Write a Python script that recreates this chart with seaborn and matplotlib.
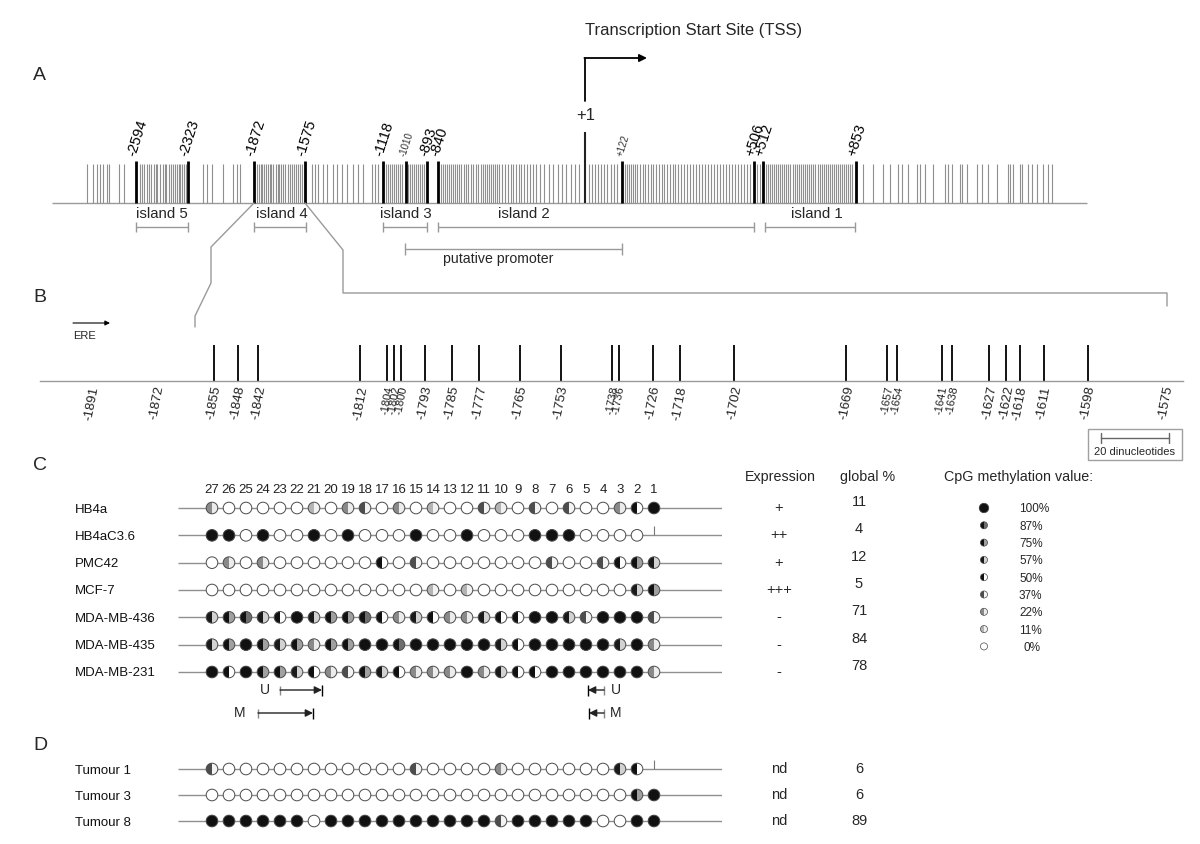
import numpy as np
import pandas as pd
import matplotlib
matplotlib.use("Agg")
import matplotlib.pyplot as plt
import matplotlib.transforms as mtransforms
from matplotlib.path import Path
from matplotlib.patches import Rectangle
import seaborn as sns

# ======================= DATA =======================
# Panel A : CpG map (schematic map units along the drawn sequence)
cpg_map_positions = [
    87, 93, 97, 100, 103, 107, 109, 119, 124,
    140, 142, 144, 147, 149, 151, 154, 156, 157, 160, 163, 165, 166, 169, 171, 173, 175, 177, 179, 180, 182, 184, 186,
    203, 207, 212, 223, 233, 237, 240,
    257, 259, 261, 262, 264, 266, 268, 270, 271, 273, 276, 278, 279, 281, 283, 285, 288, 290, 292, 294, 296, 298, 300, 302,
    312, 315, 318, 323, 327, 333, 337, 342, 347, 353, 358, 363, 372, 375, 378,
    386, 388, 390, 392, 394, 396, 398, 400, 402, 408, 410, 412, 414, 416, 418, 420, 422, 424,
    441, 443, 445, 447, 449, 451, 453, 455, 457, 459, 461, 464, 466, 468, 471, 473, 476, 478,
    481, 483, 485, 487, 489, 491, 493, 495, 497, 499, 502, 505, 508, 511, 513, 516, 519, 521, 524, 527, 530, 533, 536,
    540, 544, 549, 553, 558, 562, 566, 571, 575, 579,
    589, 592, 595, 598, 601, 604, 607, 611, 614, 617,
    625, 627, 629, 631, 633, 635, 637, 640, 643, 645, 648, 651, 653, 656, 659, 662, 664, 667, 670, 673, 675, 678,
    681, 684, 687, 690, 693, 696, 699, 702, 705, 708, 711, 714, 717, 720, 723, 726, 729, 732, 735, 738, 741, 744, 747, 750,
    757, 760,
    766, 768, 770, 772, 774, 776, 778, 780, 782, 784, 786, 788, 790, 793, 795, 797, 799, 801, 803, 805, 807, 809, 811,
    813, 815, 818, 820, 822, 824, 826, 828, 830, 832, 834, 836, 838, 840, 842, 844, 846, 848, 850, 852,
    863, 873, 883, 890, 898, 902, 908, 917, 920, 925, 933, 945, 948, 952, 960, 962, 967, 977, 982, 988, 997,
    1008, 1010, 1013, 1020, 1022, 1028, 1032, 1037, 1043, 1048, 1052,
]
site_labels_A = ["-2594", "-2323", "-1872", "-1575", "-1118", "-1010", "-893", "-840", "+122", "+506", "+512", "+853"]
site_map_A = [136, 188, 254, 305, 383, 406, 427, 438, 622, 754, 763, 856]
site_small_A = [False, False, False, False, False, True, False, False, True, False, False, False]
tss_map = 585

island_names = ["island 5", "island 4", "island 3", "island 2", "island 1"]
island_start = [136, 254, 383, 438, 765]
island_end = [188, 306, 427, 754, 855]
island_label_x = [162, 282, 406, 524, 817]
promoter_start, promoter_end = 405, 622

# Panel B : CpG sites of island 4 (bp relative to TSS)
cpg_sites_B = [-1855, -1848, -1842, -1812, -1804, -1802, -1800, -1793, -1785, -1777, -1765, -1753,
               -1738, -1736, -1726, -1718, -1702, -1669, -1657, -1654, -1641, -1638, -1627, -1622,
               -1618, -1611, -1598]
tick_values_B = [-1891, -1872] + cpg_sites_B + [-1575]
small_labels_B = [-1804, -1802, -1800, -1738, -1736, -1657, -1654, -1641, -1638]
scale_bar_bp = [-1594, -1574]   # 20 dinucleotides

# Panel C / D : methylation (% per CpG, CpG 27 ... 1; None = not analysed)
cpg_numbers = list(range(27, 0, -1))
cell_lines = ["HB4a", "HB4aC3.6", "PMC42", "MCF-7", "MDA-MB-436", "MDA-MB-435", "MDA-MB-231"]
meth_HB4a = [22, 0, 0, 0, 0, 0, 11, 0, 22, 37, 0, 22, 0, 11, 0, 0, 37, 11, 0, 37, 0, 37, 0, 0, 22, 50, 100]
meth_HB4aC36 = [100, 100, 0, 100, 0, 0, 100, 0, 100, 0, 0, 0, 100, 0, 0, 100, 0, 0, 0, 100, 100, 100, 0, 0, 0, 0, None]
meth_PMC42 = [0, 22, 0, 22, 0, 0, 0, 0, 0, 0, 50, 0, 37, 0, 0, 0, 0, 0, 0, 0, 37, 0, 0, 37, 50, 75, 57]
meth_MCF7 = [0, 0, 0, 0, 0, 0, 0, 0, 0, 0, 0, 0, 0, 11, 0, 11, 0, 0, 0, 0, 0, 0, 0, 0, 0, 57, 75]
meth_MB436 = [57, 75, 87, 57, 50, 100, 57, 75, 75, 87, 50, 22, 57, 50, 22, 22, 57, 50, 50, 100, 100, 57, 37, 100, 100, 100, 37]
meth_MB435 = [57, 75, 100, 75, 57, 75, 22, 75, 75, 100, 100, 87, 100, 100, 100, 100, 100, 57, 50, 100, 100, 100, 100, 100, 57, 100, 22]
meth_MB231 = [100, 50, 100, 75, 75, 57, 50, 22, 37, 75, 57, 50, 22, 22, 22, 100, 22, 57, 50, 50, 100, 100, 100, 100, 100, 100, 22]
expression = ["+", "++", "+", "+++", "-", "-", "-"]
global_pct = [11, 4, 12, 5, 71, 84, 78]

tumours = ["Tumour 1", "Tumour 3", "Tumour 8"]
meth_T1 = [37, 0, 0, 0, 0, 0, 0, 0, 0, 0, 0, 0, 37, 0, 0, 0, 0, 22, 0, 0, 0, 0, 0, 0, 57, 50, None]
meth_T3 = [0, 0, 0, 0, 0, 0, 0, 0, 0, 0, 0, 0, 0, 0, 0, 0, 0, 0, 0, 0, 0, 0, 0, 0, 0, 75, 100]
meth_T8 = [100, 100, 100, 100, 100, 100, 0, 100, 100, 100, 100, 100, 100, 100, 100, 100, 100, 37, 100, 100, 100, 100, 100, 0, 0, 100, 100]
expression_T = ["nd", "nd", "nd"]
global_T = [6, 6, 89]

legend_levels = [100, 87, 75, 57, 50, 37, 22, 11, 0]

# ======================= STYLE =======================
sns.set_theme(style="white")
plt.rcParams["font.family"] = ["Liberation Sans", "DejaVu Sans"]

LEFT = {100: "#111111", 87: "#111111", 75: "#111111", 57: "#1a1a1a", 50: "#111111",
        37: "#4d4d4d", 22: "#8a8a8a", 11: "#b4b4b4", 0: "#ffffff"}
RIGHT = {100: "#111111", 87: "#6e6e6e", 75: "#a0a0a0", 57: "#d2d2d2", 50: "#ffffff",
         37: "#f4f4f4", 22: "#ececec", 11: "#f2f2f2", 0: "#ffffff"}
HALF_LEFT = Path.wedge(90, 270)
LINE_GRAY = "#8f8f8f"
W, H = 1200, 844


def rect(x0, y0, x1, y1):
    return [x0 / W, 1 - y1 / H, (x1 - x0) / W, (y1 - y0) / H]


def draw_circles(ax, df, x, y, s, edge_lw=0.7):
    sns.scatterplot(data=df, x=x, y=y, hue="level", palette=RIGHT, marker="o", s=s,
                    linewidth=0, edgecolor="none", legend=False, ax=ax, zorder=3)
    dark = df[df["level"] > 0]
    sns.scatterplot(data=dark, x=x, y=y, hue="level", palette=LEFT, marker=HALF_LEFT, s=s,
                    linewidth=0, edgecolor="none", legend=False, ax=ax, zorder=4)
    ax.scatter(df[x], df[y], s=s, facecolors="none", edgecolors="#4a4a4a", linewidths=edge_lw, zorder=5)
    ax.set_xlabel("")
    ax.set_ylabel("")


def long_table(rows):
    rec = []
    for r, vals in enumerate(rows):
        for n, v in zip(cpg_numbers, vals):
            if v is not None:
                rec.append((n, r, int(v)))
    return pd.DataFrame(rec, columns=["cpg", "row", "level"])


fig = plt.figure(figsize=(12, 8.44), dpi=100)
bg = fig.add_axes([0, 0, 1, 1])
bg.set_xlim(0, W)
bg.set_ylim(H, 0)
bg.axis("off")

# panel letters
for letter, yy in zip(["A", "B", "C", "D"], [75, 297, 466, 745]):
    bg.text(33, yy, letter, fontsize=14, ha="left", va="center")

# ======================= PANEL A =======================
bg.hlines(203, 52, 1087, color="#9a9a9a", lw=1)
bg.vlines(cpg_map_positions, 164, 203, color=LINE_GRAY, lw=0.8)
bg.vlines(site_map_A, 161, 203, color="black", lw=2.0)
for lab, xm, small in zip(site_labels_A, site_map_A, site_small_A):
    bg.text(xm + 1, 158, lab, rotation=72, ha="center", va="bottom",
            fontsize=7 if small else 10.5, color="#333333" if small else "black")
bg.vlines(tss_map, 132, 203, color="#222222", lw=1.5)
bg.text(tss_map + 1, 116, "+1", fontsize=12, ha="center", va="center")
bg.plot([tss_map, tss_map], [101, 58], color="black", lw=1.3)
bg.annotate("", xy=(647, 58), xytext=(tss_map - 0.6, 58),
            arrowprops=dict(arrowstyle="-|>", lw=1.3, color="black", mutation_scale=11,
                            shrinkA=0, shrinkB=0))
bg.text(694, 30, "Transcription Start Site (TSS)", fontsize=12, ha="center", va="center")

for name, s0, s1, lx in zip(island_names, island_start, island_end, island_label_x):
    bg.hlines(227, s0, s1, color="#999999", lw=1)
    bg.vlines([s0, s1], 222, 232, color="#999999", lw=1)
    bg.text(lx, 214, name, fontsize=10.8, ha="center", va="center")
bg.hlines(249, promoter_start, promoter_end, color="#999999", lw=1)
bg.vlines([promoter_start, promoter_end], 243, 255, color="#999999", lw=1)
bg.text(498, 259, "putative promoter", fontsize=10.2, ha="center", va="center")

# zoom lines from island 4 to panel B
bg.plot([254, 211, 211, 195, 195], [203, 247, 283, 316, 327], color="#9a9a9a", lw=1)
bg.plot([305, 343, 343, 1167, 1167], [203, 250, 293, 293, 306], color="#9a9a9a", lw=1)

# ======================= PANEL B =======================
axB = fig.add_axes(rect(40, 345, 1183, 381))
axB.set_facecolor("none")
axB.vlines(cpg_sites_B, 0, 1, color="black", lw=1.3)
axB.set_xlim(-1906.18, -1570.0)
axB.set_ylim(0, 1)
for sp in ["top", "left", "right"]:
    axB.spines[sp].set_visible(False)
axB.spines["bottom"].set_color("#9a9a9a")
axB.spines["bottom"].set_linewidth(1)
axB.set_yticks([])
axB.set_xticks(tick_values_B)
axB.set_xticklabels([str(v) for v in tick_values_B], rotation=79)
axB.tick_params(axis="x", length=0, pad=3, labelsize=9.5, colors="#222222")
for t, v in zip(axB.get_xticklabels(), tick_values_B):
    if v in small_labels_B:
        t.set_fontsize(8)
    t.set_ha("center")
    t.set_va("top")

bg.annotate("", xy=(110, 323), xytext=(73, 323),
            arrowprops=dict(arrowstyle="-|>", lw=0.8, color="black", mutation_scale=7,
                            shrinkA=0, shrinkB=0))
bg.text(73, 336, "ERE", fontsize=8, ha="left", va="center")

# scale box (20 dinucleotides, drawn on the bp scale of panel B)
bg.add_patch(Rectangle((1088, 429), 94, 31, fill=False, edgecolor="#a0a0a0", lw=1))
tr_scale = mtransforms.blended_transform_factory(axB.transData, bg.transData)
bg.plot(scale_bar_bp, [438, 438], color="#666666", lw=1, transform=tr_scale)
bg.plot([scale_bar_bp[0]] * 2, [433, 443], color="#666666", lw=1, transform=tr_scale)
bg.plot([scale_bar_bp[1]] * 2, [433, 443], color="#666666", lw=1, transform=tr_scale)
bg.text(1135, 452, "20 dinucleotides", fontsize=8, ha="center", va="center")

# ======================= PANEL C =======================
axC = fig.add_axes(rect(178, 497, 722, 690))
axC.set_facecolor("none")
rows_C = [meth_HB4a, meth_HB4aC36, meth_PMC42, meth_MCF7, meth_MB436, meth_MB435, meth_MB231]
dfC = long_table(rows_C)
axC.hlines(range(len(cell_lines)), 29, -3, color=LINE_GRAY, lw=1, zorder=1)
draw_circles(axC, dfC, "cpg", "row", 70)
for r, vals in enumerate(rows_C):
    for n, v in zip(cpg_numbers, vals):
        if v is None:
            axC.vlines(n, r - 0.33, r, color="#777777", lw=0.8, zorder=2)
axC.set_xlim(29, -3)
axC.set_ylim(6.659, -0.4025)
axC.set_xticks(cpg_numbers)
axC.set_xticklabels([str(n) for n in cpg_numbers])
axC.xaxis.tick_top()
axC.tick_params(axis="x", top=True, labeltop=True, bottom=False, labelbottom=False,
                length=0, pad=1, labelsize=9.5, colors="#222222")
axC.set_yticks(range(len(cell_lines)))
axC.set_yticklabels(cell_lines)
axC.tick_params(axis="y", length=0, pad=74, labelsize=9.5, colors="#111111")
for t in axC.get_yticklabels():
    t.set_ha("left")
for sp in axC.spines.values():
    sp.set_visible(False)

trC = mtransforms.blended_transform_factory(bg.transData, axC.transData)
for r, (e, g) in enumerate(zip(expression, global_pct)):
    axC.text(779, r, e, transform=trC, fontsize=10.5, ha="center", va="center")
    axC.text(859, r - 0.22, str(g), transform=trC, fontsize=10.5, ha="center", va="center")

bg.text(780, 477, "Expression", fontsize=10.3, ha="center", va="center")
bg.text(868, 477, "global %", fontsize=10.3, ha="center", va="center")
bg.text(944, 477, "CpG methylation value:", fontsize=10.3, ha="left", va="center")

# legend
leg = pd.DataFrame({"level": legend_levels,
                    "x": [984] * len(legend_levels),
                    "y": [508 + 17.3 * k for k in range(len(legend_levels))]})
draw_circles(bg, leg.iloc[:1], "x", "y", 46, edge_lw=0.6)
draw_circles(bg, leg.iloc[1:], "x", "y", 26, edge_lw=0.5)
for lvl, yy in zip(leg["level"], leg["y"]):
    bg.text(1019 if lvl > 0 else 1023, yy + 1.5, f"{lvl}%", fontsize=8.5, ha="left", va="center")

# primers U / M
bg.text(265, 690, "U", fontsize=10, ha="center", va="center")
bg.vlines(280, 686, 695, color="#888888", lw=1)
bg.annotate("", xy=(322, 690), xytext=(280, 690),
            arrowprops=dict(arrowstyle="-|>", lw=1, color="#222222", mutation_scale=11, shrinkA=0, shrinkB=0))
bg.vlines(322, 685, 696, color="black", lw=1)
bg.text(240, 713, "M", fontsize=10, ha="center", va="center")
bg.vlines(258, 709, 718, color="#888888", lw=1)
bg.annotate("", xy=(313, 713), xytext=(258, 713),
            arrowprops=dict(arrowstyle="-|>", lw=1, color="#222222", mutation_scale=11, shrinkA=0, shrinkB=0))
bg.vlines(313, 708, 719, color="black", lw=1)
bg.annotate("", xy=(588, 690), xytext=(604, 690),
            arrowprops=dict(arrowstyle="-|>", lw=1, color="#222222", mutation_scale=11, shrinkA=0, shrinkB=0))
bg.vlines(588, 685, 696, color="black", lw=1)
bg.vlines(604, 686, 695, color="#888888", lw=1)
bg.text(616, 690, "U", fontsize=10, ha="center", va="center")
bg.annotate("", xy=(589, 713), xytext=(604, 713),
            arrowprops=dict(arrowstyle="-|>", lw=1, color="#222222", mutation_scale=11, shrinkA=0, shrinkB=0))
bg.vlines(589, 708, 719, color="black", lw=1)
bg.vlines(604, 709, 718, color="#888888", lw=1)
bg.text(616, 713, "M", fontsize=10, ha="center", va="center")

# ======================= PANEL D =======================
axD = fig.add_axes(rect(178, 755, 722, 835))
axD.set_facecolor("none")
rows_D = [meth_T1, meth_T3, meth_T8]
dfD = long_table(rows_D)
axD.hlines(range(len(tumours)), 29, -3, color=LINE_GRAY, lw=1, zorder=1)
draw_circles(axD, dfD, "cpg", "row", 70)
for r, vals in enumerate(rows_D):
    for n, v in zip(cpg_numbers, vals):
        if v is None:
            axD.vlines(n, r - 0.33, r, color="#777777", lw=0.8, zorder=2)
axD.set_xlim(29, -3)
axD.set_ylim(2.538, -0.5385)
axD.set_xticks([])
axD.set_yticks(range(len(tumours)))
axD.set_yticklabels(tumours)
axD.tick_params(axis="y", length=0, pad=74, labelsize=9.5, colors="#111111")
for t in axD.get_yticklabels():
    t.set_ha("left")
for sp in axD.spines.values():
    sp.set_visible(False)
trD = mtransforms.blended_transform_factory(bg.transData, axD.transData)
for r, (e, g) in enumerate(zip(expression_T, global_T)):
    axD.text(779, r, e, transform=trD, fontsize=10.5, ha="center", va="center")
    axD.text(859, r, str(g), transform=trD, fontsize=10.5, ha="center", va="center")

fig.savefig("out.png", dpi=100, facecolor="white")
